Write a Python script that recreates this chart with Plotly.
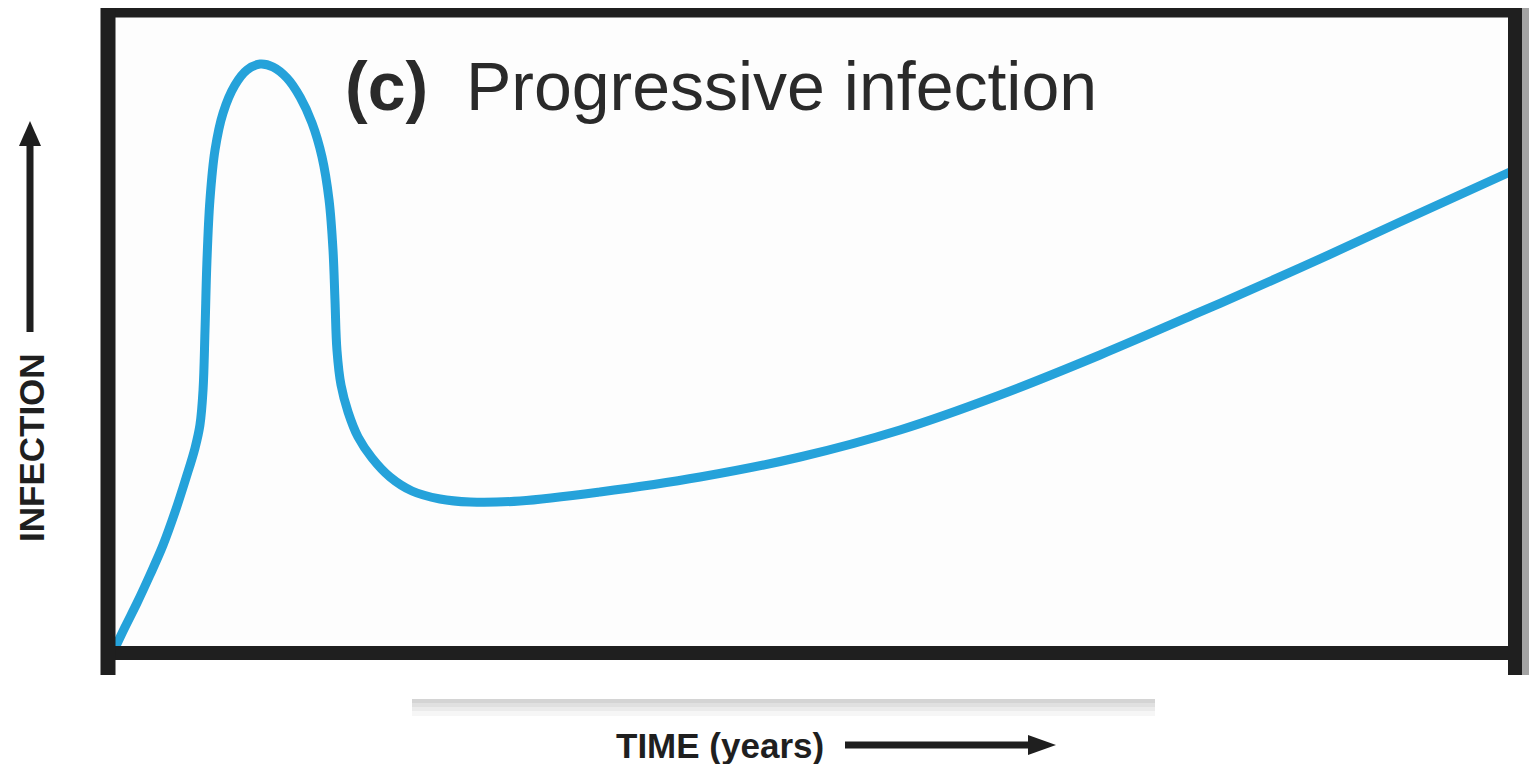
import plotly.graph_objects as go

# ---- data (arbitrary units) ----
time_years = [0.50, 1.21, 2.06, 2.98, 3.91, 4.76, 5.54, 6.18, 6.53,
              6.75, 6.89, 7.03, 7.24, 7.60, 8.17, 9.02, 9.87, 10.80, 11.72, 12.71,
              13.64, 14.49, 15.20, 15.70, 15.98, 16.12, 16.26, 16.55, 17.05, 17.76,
              18.75, 20.03, 21.59, 23.58, 25.71, 29.26, 34.94, 42.05, 49.15,
              56.25, 63.35, 70.45, 77.56, 84.66, 91.76, 99.57]
infection = [0.78, 4.05, 7.79, 12.15, 16.82, 21.96, 27.26, 31.93, 35.51,
             40.97, 50.31, 61.21, 70.56, 78.35, 84.11, 88.47, 90.81, 91.74, 91.28, 89.56,
             86.60, 82.55, 77.26, 70.56, 62.77, 54.98, 47.20, 41.74, 37.54, 33.64,
             30.37, 27.41, 25.23, 23.99, 23.52, 23.68, 25.08, 27.41, 30.53,
             34.74, 40.19, 46.42, 53.12, 59.97, 67.13, 74.92]

title_text = "<b>(c)</b>&nbsp;&nbsp;Progressive infection"
x_label = "<b>TIME (years)</b>"
y_label = "<b>INFECTION</b>"

OFF = 8  # page body margin
W, H = 1537 - 2 * OFF, 764 - OFF
SL, SR, ST, SB = 108, 1516, 11, 653  # plot area in screen pixels
L, T = SL - OFF, ST - OFF
R, B = W - (SR - OFF), H - (SB - OFF)
PW, PH = SR - SL, SB - ST


def px(x):
    return (x - SL) / PW


def py(y):
    return (SB - y) / PH


fig = go.Figure()
fig.add_trace(go.Scatter(
    x=time_years, y=infection, mode="lines",
    line=dict(color="#25a2da", width=9, shape="spline", smoothing=1.0),
    hoverinfo="skip", showlegend=False))

dark = "#1f1f1f"
shapes = []
shapes.append(dict(type="rect", xref="paper", yref="paper", x0=px(1521), x1=px(1537),
                   y0=py(675), y1=py(4), fillcolor="#a3a3a3", line=dict(width=0), layer="above"))
shapes.append(dict(type="line", xref="paper", yref="paper", x0=px(101), x1=px(1522),
                   y0=py(11), y1=py(11), line=dict(color=dark, width=13), layer="above"))
shapes.append(dict(type="line", xref="paper", yref="paper", x0=px(101), x1=px(1522),
                   y0=py(653), y1=py(653), line=dict(color=dark, width=14), layer="above"))
shapes.append(dict(type="line", xref="paper", yref="paper", x0=px(108), x1=px(108),
                   y0=py(4), y1=py(675), line=dict(color=dark, width=15), layer="above"))
shapes.append(dict(type="line", xref="paper", yref="paper", x0=px(1515), x1=px(1515),
                   y0=py(4), y1=py(675), line=dict(color=dark, width=14), layer="above"))
for (y0, y1, c) in [(699, 703, "#d4d4d4"), (703, 707, "#e0e0e0"), (707, 711, "#ebebeb"), (711, 716, "#f6f6f6")]:
    shapes.append(dict(type="rect", xref="paper", yref="paper", x0=px(412), x1=px(1155),
                       y0=py(y1), y1=py(y0), fillcolor=c, line=dict(width=0), layer="below"))
shapes.append(dict(type="line", xref="paper", yref="paper", x0=px(30), x1=px(30),
                   y0=py(332), y1=py(142), line=dict(color=dark, width=7)))
shapes.append(dict(type="path", xref="paper", yref="paper",
                   path=f"M {px(19)} {py(146)} L {px(30)} {py(121)} L {px(41)} {py(146)} Z",
                   fillcolor=dark, line=dict(width=0)))
shapes.append(dict(type="line", xref="paper", yref="paper", x0=px(845), x1=px(1032),
                   y0=py(745), y1=py(745), line=dict(color=dark, width=7)))
shapes.append(dict(type="path", xref="paper", yref="paper",
                   path=f"M {px(1028)} {py(735)} L {px(1056)} {py(745)} L {px(1028)} {py(755)} Z",
                   fillcolor=dark, line=dict(width=0)))

annotations = [
    dict(text=title_text, xref="paper", yref="paper", x=px(343), y=py(86),
         xanchor="left", yanchor="middle", showarrow=False,
         font=dict(family="Liberation Sans", size=68, color="#2a2a2a")),
    dict(text=x_label, xref="paper", yref="paper", x=px(720), y=py(745),
         xanchor="center", yanchor="middle", showarrow=False,
         font=dict(family="Liberation Sans", size=35, color=dark)),
    dict(text=y_label, xref="paper", yref="paper", x=px(31), y=py(448),
         xanchor="center", yanchor="middle", showarrow=False, textangle=-90,
         font=dict(family="Liberation Sans", size=35, color=dark)),
]

fig.update_layout(
    width=W, height=H,
    margin=dict(l=L, r=R, t=T, b=B),
    paper_bgcolor="white", plot_bgcolor="#fdfdfd",
    xaxis=dict(range=[0, 100], visible=False, fixedrange=True),
    yaxis=dict(range=[0, 100], visible=False, fixedrange=True),
    shapes=shapes, annotations=annotations, showlegend=False,
)

fig.write_html("out.html", config={"displayModeBar": False})
